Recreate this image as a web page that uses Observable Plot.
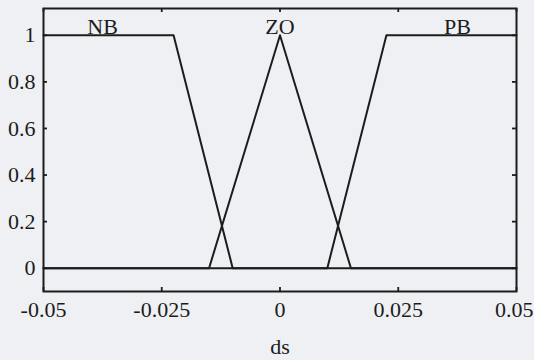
<!DOCTYPE html>
<html>
<head>
<meta charset="utf-8">
<script src="https://cdn.jsdelivr.net/npm/d3@7"></script>
<script src="https://cdn.jsdelivr.net/npm/@observablehq/plot@0.6"></script>
<style>
  html, body { margin: 0; padding: 0; background: #eff0f3; }
</style>
</head>
<body>
<div id="chart"></div>
<script>
// Membership functions (breakpoints)
const nbX = [-0.05, -0.0225, -0.01, 0.05];
const nbY = [1, 1, 0, 0];
const zoX = [-0.05, -0.015, 0, 0.015, 0.05];
const zoY = [0, 0, 1, 0, 0];
const pbX = [-0.05, 0.01, 0.0225, 0.05];
const pbY = [0, 0, 1, 1];

const labels = ["NB", "ZO", "PB"];
const labelX = [-0.0375, 0, 0.0375];
const labelY = [1, 1, 1];

const xTicks = [-0.05, -0.025, 0, 0.025, 0.05];
const yTicks = [0, 0.2, 0.4, 0.6, 0.8, 1];

const W = 534, H = 360;
const mTop = 8, mBottom = 69, mLeft = 43, mRight = 18;
const innerH = H - mTop - mBottom;
const innerW = W - mLeft - mRight;

const toRows = (xs, ys) => xs.map((x, i) => ({x, y: ys[i]}));
const ink = "#1c1c1c";
const lineStyle = {x: "x", y: "y", stroke: ink, strokeWidth: 2};
const tick = 4;
const lastTick = xTicks[xTicks.length - 1];

const chart = Plot.plot({
  width: W,
  height: H,
  marginTop: mTop,
  marginBottom: mBottom,
  marginLeft: mLeft,
  marginRight: mRight,
  style: {fontFamily: "'Liberation Serif', 'DejaVu Serif', serif", fontSize: "22px", background: "#eff0f3", color: ink},
  x: {domain: [-0.05, 0.05]},
  y: {domain: [-0.1, 1.115]},
  marks: [
    Plot.line(toRows(nbX, nbY), lineStyle),
    Plot.line(toRows(zoX, zoY), lineStyle),
    Plot.line(toRows(pbX, pbY), lineStyle),
    // inward ticks
    Plot.ruleX(xTicks, {x: d => d, insetTop: innerH - tick, stroke: ink, strokeWidth: 1.8}),
    Plot.ruleX(xTicks, {x: d => d, insetBottom: innerH - tick, stroke: ink, strokeWidth: 1.8}),
    Plot.ruleY(yTicks, {y: d => d, insetRight: innerW - tick, stroke: ink, strokeWidth: 1.8}),
    Plot.ruleY(yTicks, {y: d => d, insetLeft: innerW - tick, stroke: ink, strokeWidth: 1.8}),
    Plot.frame({stroke: ink, strokeWidth: 2}),
    Plot.axisX(xTicks.slice(0, -1), {tickSize: 0, tickPadding: 10, tickFormat: d => String(d), fill: ink,
      label: "ds", labelAnchor: "center", labelArrow: "none", labelOffset: 62}),
    Plot.axisX([lastTick], {tickSize: 0, tickPadding: 10, tickFormat: d => String(d), fill: ink,
      textAnchor: "end", dx: 17, label: null}),
    Plot.axisY(yTicks, {tickSize: 0, tickPadding: 8, tickFormat: d => String(d), fill: ink, label: null}),
    Plot.text(labels, {x: (d, i) => labelX[i], y: (d, i) => labelY[i], text: d => d,
      lineAnchor: "bottom", dy: -1, fill: ink, fontSize: 22})
  ]
});
document.getElementById("chart").appendChild(chart);
</script>
</body>
</html>
